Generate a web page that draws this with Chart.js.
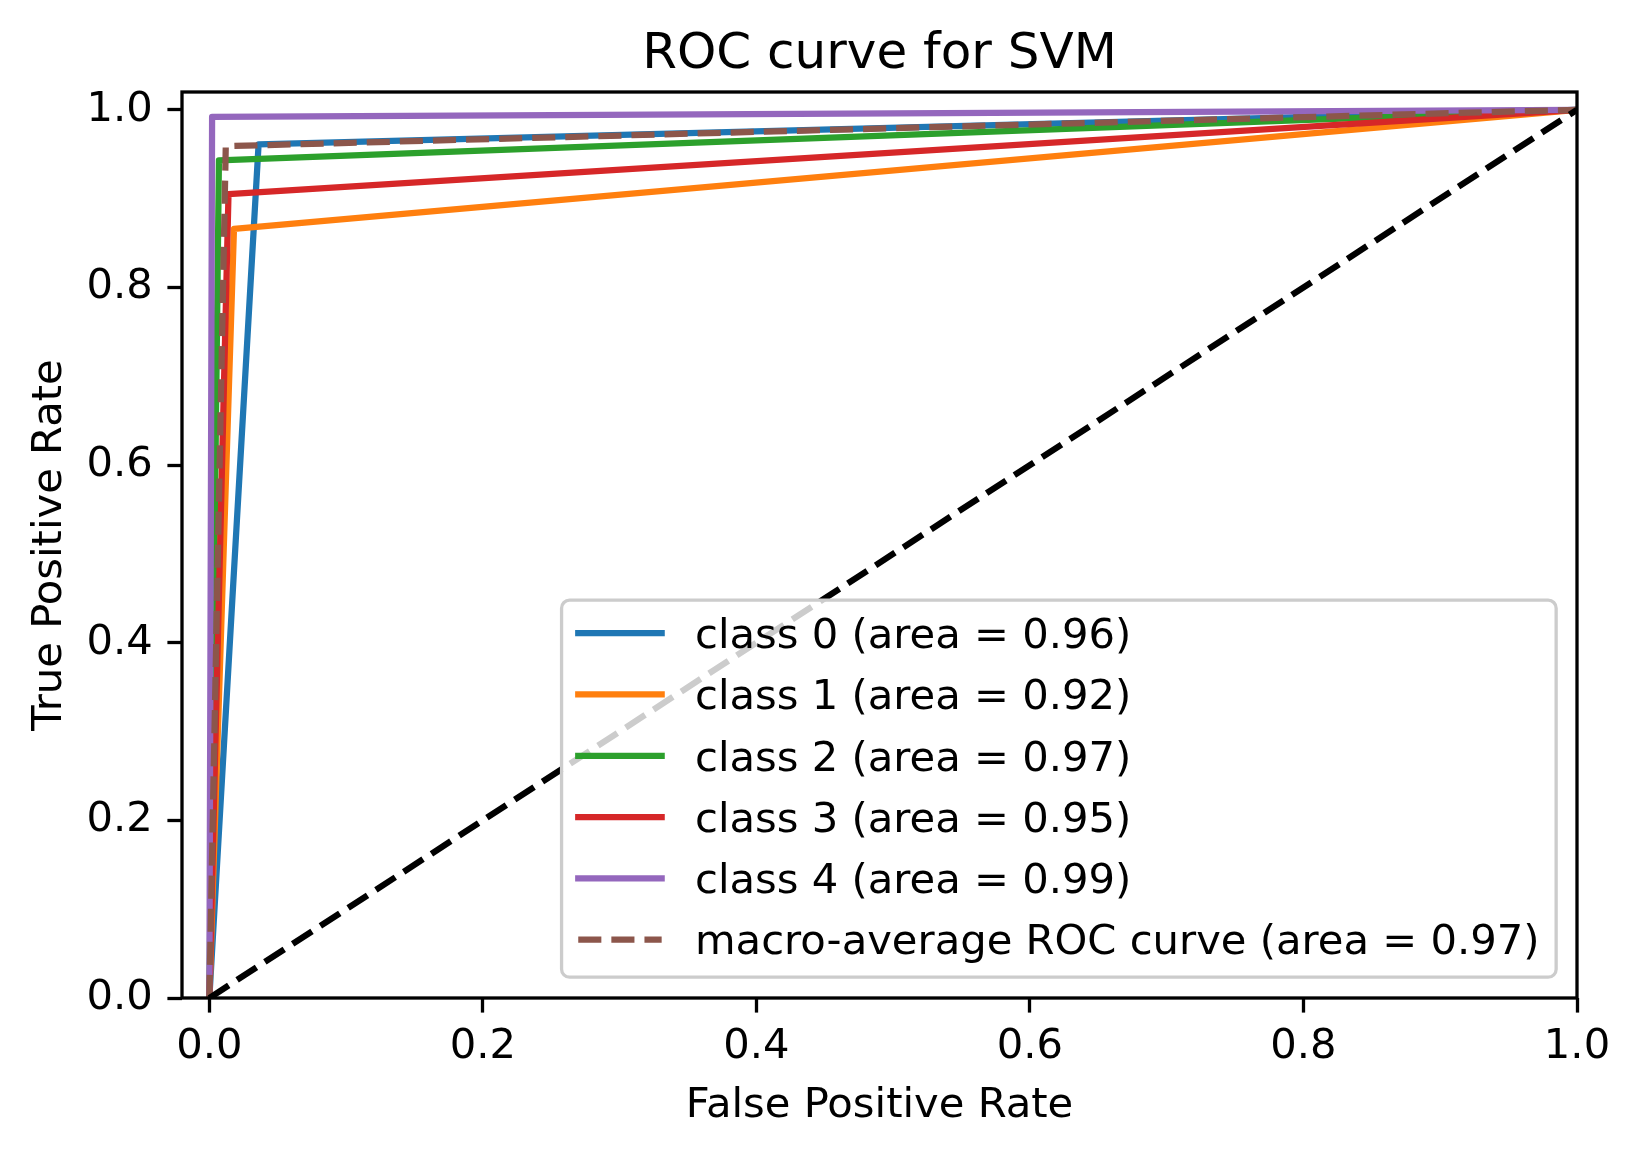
<!DOCTYPE html>
<html>
<head>
<meta charset="utf-8">
<script src="https://cdn.jsdelivr.net/npm/chart.js@4.4.0/dist/chart.umd.min.js"></script>
<style>
  html, body { margin: 0; padding: 0; background: #fff; }
  #wrap { width: 1640px; height: 1154px; }
</style>
</head>
<body>
<div id="wrap"><canvas id="rocChart" width="1640" height="1154"></canvas></div>
<script>
// per-class ROC points
const classNames = ['class 0', 'class 1', 'class 2', 'class 3', 'class 4'];
const classAreas = [0.96, 0.92, 0.97, 0.95, 0.99];
const classColors = ['#1f77b4', '#ff7f0e', '#2ca02c', '#d62728', '#9467bd'];
const fprClass = [
  [0, 0.036, 1],
  [0, 0.018, 1],
  [0, 0.007, 1],
  [0, 0.014, 1],
  [0, 0.002, 1]
];
const tprClass = [
  [0, 0.961, 1],
  [0, 0.866, 1],
  [0, 0.943, 1],
  [0, 0.905, 1],
  [0, 0.992, 1]
];
const macroArea = 0.97;
const fprMacro = [0, 0.012, 1];
const tprMacro = [0, 0.959, 1];
const chanceX = [0, 1];
const chanceY = [0, 1];
const xTicks = [0, 0.2, 0.4, 0.6, 0.8, 1.0];
const yTicks = [0, 0.2, 0.4, 0.6, 0.8, 1.0];

const FONT = '"DejaVu Sans", sans-serif';
const FS = 41.7;
const LW = 6.25;
const DASH = [23.1, 10];

const toPoints = (xs, ys) => xs.map((x, i) => ({ x: x, y: ys[i] }));

const datasets = classNames.map((name, i) => ({
  label: name + ' (area = ' + classAreas[i].toFixed(2) + ')',
  data: toPoints(fprClass[i], tprClass[i]),
  borderColor: classColors[i],
  borderWidth: LW,
  borderJoinStyle: 'round',
  borderCapStyle: 'square',
  order: 10 - i
}));
datasets.push({
  label: 'macro-average ROC curve (area = ' + macroArea.toFixed(2) + ')',
  data: toPoints(fprMacro, tprMacro),
  borderColor: '#8c564b',
  borderWidth: LW,
  borderDash: DASH,
  borderCapStyle: 'butt',
  order: 2
});
datasets.push({
  label: '',
  data: toPoints(chanceX, chanceY),
  borderColor: '#000000',
  borderWidth: LW,
  borderDash: DASH,
  borderCapStyle: 'butt',
  order: 1
});

// axes frame on all four sides, drawn over the lines
const frame = {
  id: 'frame',
  afterDatasetsDraw(chart) {
    const { ctx, chartArea: a } = chart;
    ctx.save();
    ctx.strokeStyle = '#000';
    ctx.lineWidth = 3.3;
    ctx.strokeRect(a.left, a.top, a.right - a.left, a.bottom - a.top);
    ctx.restore();
  }
};

// matplotlib-like legend in the lower right corner
const legendBox = {
  id: 'legendBox',
  afterDraw(chart) {
    const { ctx, chartArea: a } = chart;
    const items = chart.data.datasets.filter(d => d.label);
    ctx.save();
    ctx.font = FS + 'px ' + FONT;
    const maxW = Math.max(...items.map(d => ctx.measureText(d.label).width));
    const pad = 0.4 * FS, handle = 2 * FS, gap = 0.8 * FS, pitch = 61.3;
    const right = a.right - 0.5 * FS, bottom = a.bottom - 0.5 * FS;
    const w = 2 * pad + handle + gap + maxW, h = 377;
    const left = right - w, top = bottom - h;
    ctx.beginPath();
    ctx.roundRect(left, top, w, h, 8);
    ctx.fillStyle = 'rgba(255,255,255,0.8)';
    ctx.fill();
    ctx.lineWidth = 3.3;
    ctx.strokeStyle = '#cccccc';
    ctx.stroke();
    items.forEach((d, i) => {
      const y = top + 33 + i * pitch;
      ctx.beginPath();
      ctx.setLineDash(d.borderDash || []);
      ctx.lineCap = d.borderDash ? 'butt' : 'square';
      ctx.strokeStyle = d.borderColor;
      ctx.lineWidth = d.borderWidth;
      ctx.moveTo(left + pad, y);
      ctx.lineTo(left + pad + handle, y);
      ctx.stroke();
      ctx.setLineDash([]);
      ctx.fillStyle = '#000';
      ctx.textBaseline = 'middle';
      ctx.textAlign = 'left';
      ctx.fillText(d.label, left + pad + handle + gap, y + 4);
    });
    ctx.restore();
  }
};

new Chart(document.getElementById('rocChart'), {
  type: 'scatter',
  data: { datasets: datasets },
  plugins: [frame, legendBox],
  options: {
    responsive: false,
    devicePixelRatio: 1,
    animation: false,
    events: [],
    showLine: true,
    layout: { padding: { top: 0, right: 63, bottom: 0, left: 0 } },
    elements: { point: { radius: 0 }, line: { tension: 0 } },
    datasets: { scatter: { clip: 0 } },
    plugins: {
      legend: { display: false },
      tooltip: { enabled: false },
      title: {
        display: true,
        text: 'ROC curve for SVM',
        color: '#000',
        fullSize: false,
        font: { family: FONT, size: 50, weight: 'normal', lineHeight: 1.2 },
        padding: { top: 25, bottom: 7 }
      }
    },
    scales: {
      x: {
        type: 'linear',
        min: -0.02,
        max: 1.0,
        afterFit: s => { s.height = 156; },
        afterBuildTicks: s => { s.ticks = xTicks.map(v => ({ value: v })); },
        border: { display: false },
        grid: { drawOnChartArea: false, drawTicks: true, tickLength: 14.6, tickWidth: 3.3, tickColor: '#000' },
        ticks: {
          autoSkip: false, maxRotation: 0, padding: 9.4, color: '#000',
          font: { family: FONT, size: FS },
          callback: v => v.toFixed(1)
        },
        title: {
          display: true, text: 'False Positive Rate', color: '#000',
          font: { family: FONT, size: FS, lineHeight: 1.2 },
          padding: { top: 0, bottom: 23 }
        }
      },
      y: {
        type: 'linear',
        min: 0,
        max: 1.02,
        afterFit: s => { s.width = 182; },
        afterBuildTicks: s => { s.ticks = yTicks.map(v => ({ value: v })); },
        border: { display: false },
        grid: { drawOnChartArea: false, drawTicks: true, tickLength: 14.6, tickWidth: 3.3, tickColor: '#000' },
        ticks: {
          autoSkip: false, padding: 14.6, color: '#000',
          font: { family: FONT, size: FS },
          callback: v => v.toFixed(1)
        },
        title: {
          display: true, text: 'True Positive Rate', color: '#000',
          font: { family: FONT, size: FS, lineHeight: 1.2 },
          padding: { top: 25, bottom: 0 }
        }
      }
    }
  }
});
</script>
</body>
</html>
